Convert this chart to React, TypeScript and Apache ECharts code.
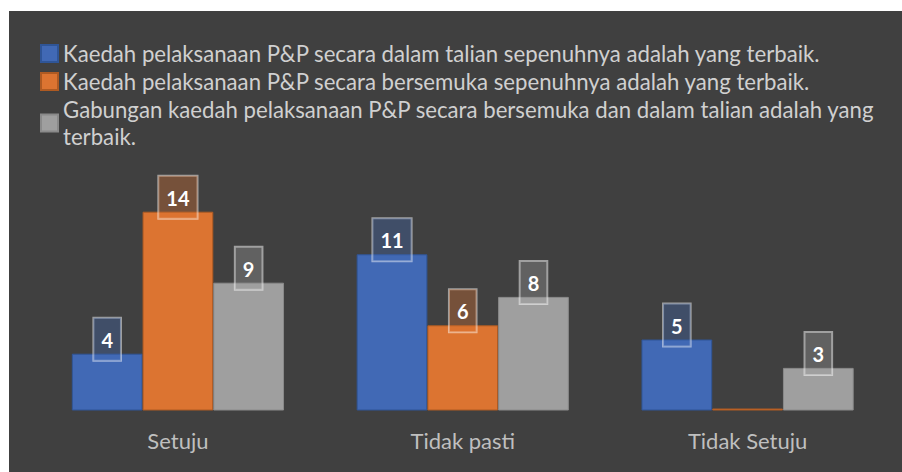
import React, { useEffect, useRef } from "react";
import * as echarts from "echarts";

const categories = ["Setuju", "Tidak pasti", "Tidak Setuju"];
const seriesNames = [
  "Kaedah pelaksanaan P&P secara dalam talian sepenuhnya adalah yang terbaik.",
  "Kaedah pelaksanaan P&P secara bersemuka sepenuhnya adalah yang terbaik.",
  "Gabungan kaedah pelaksanaan P&P secara bersemuka dan dalam talian adalah yang terbaik.",
];
const onlineValues = [4, 11, 5];
const faceToFaceValues = [14, 6, 0];
const blendedValues = [9, 8, 3];

const colors = ["#4169b5", "#dc7431", "#9f9f9f"];
const borderColors = ["#2f5597", "#ae5a22", "#8a8a8a"];
const labelFills = [
  "rgba(65,105,181,0.35)",
  "rgba(220,116,49,0.35)",
  "rgba(160,160,160,0.35)",
];

export default function App() {
  const ref = useRef<HTMLDivElement>(null);
  useEffect(() => {
    document.body.style.margin = "0";
    const chart = echarts.init(ref.current!, null, { renderer: "svg" });
    const all = [onlineValues, faceToFaceValues, blendedValues];
    const font = "Lato, 'Noto Sans', sans-serif";
    chart.setOption({
      animation: false,
      backgroundColor: "#ffffff",
      graphic: [
        {
          type: "rect",
          z: -10,
          silent: true,
          shape: { x: 9, y: 11, width: 893, height: 461 },
          style: { fill: "#404040" },
        },
      ],
      legend: {
        orient: "vertical",
        left: 40,
        top: 40,
        padding: 0,
        itemWidth: 17,
        itemHeight: 17,
        itemGap: 1,
        icon: "rect",
        textStyle: {
          color: "#d0d0d0",
          fontSize: 22.2,
          fontFamily: font,
          lineHeight: 27,
        },
        formatter: (name: string) =>
          name === seriesNames[2] ? name.replace(/ terbaik\.$/, "\nterbaik.") : name,
        data: seriesNames,
      },
      grid: { left: 35.5, right: 12, top: 183.3, bottom: 61.5 },
      xAxis: {
        type: "category",
        data: categories,
        axisLine: { show: false },
        axisTick: { show: false },
        axisLabel: {
          color: "#bfbfbf",
          fontSize: 22,
          fontFamily: font,
          margin: 19,
        },
      },
      yAxis: {
        type: "value",
        min: 0,
        max: 16,
        show: false,
        splitLine: { show: false },
      },
      series: all.map((vals, i) => ({
        type: "bar",
        name: seriesNames[i],
        barGap: "0%",
        barCategoryGap: "25.5%",
        barMinHeight: i === 1 ? 2 : 0,
        itemStyle: {
          color: colors[i],
          borderColor: borderColors[i],
          borderWidth: 1,
        },
        label: {
          show: true,
          position: "top",
          distance: -7,
          color: "#ffffff",
          fontSize: 20,
          fontWeight: "bold",
          fontFamily: font,
          backgroundColor: labelFills[i],
          borderColor: "rgba(255,255,255,0.5)",
          borderWidth: 1,
          padding: [12, 8, 11, 8],
        },
        data: vals.map((v) => (v === 0 ? { value: v, label: { show: false } } : v)),
      })),
    });
    return () => chart.dispose();
  }, []);
  return <div ref={ref} style={{ width: 902, height: 472 }} />;
}
